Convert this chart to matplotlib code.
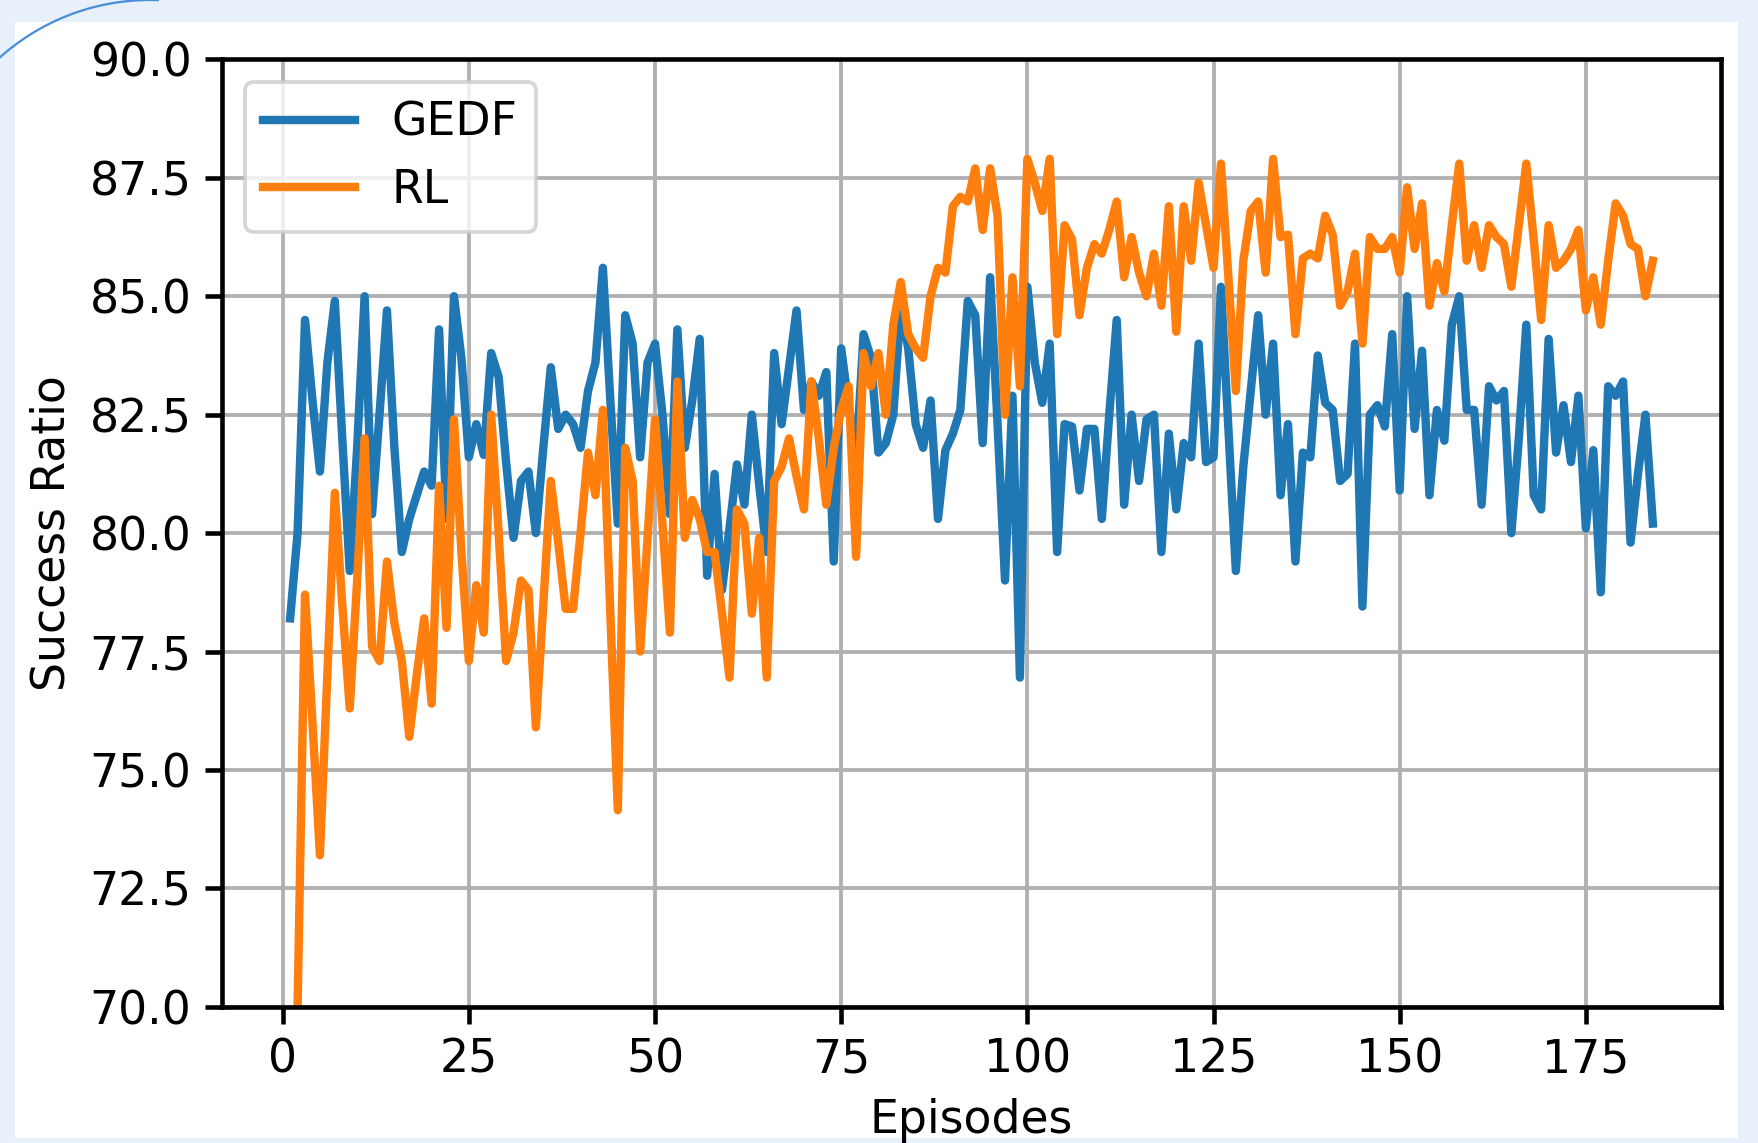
import numpy as np
import matplotlib
matplotlib.use('Agg')
import matplotlib.pyplot as plt
from matplotlib.patches import Rectangle

# success ratio per episode
gedf_episodes = np.arange(1, 185)
gedf = [78.2, 80.0, 84.5, 82.8, 81.3, 83.6, 84.9, 82.0, 79.2, 81.8,
        85.0, 80.4, 82.5, 84.7, 81.8, 79.6, 80.3, 80.8, 81.3, 81.0,
        84.3, 80.3, 85.0, 83.7, 81.6, 82.3, 81.65, 83.8, 83.3, 81.5,
        79.9, 81.1, 81.3, 80.0, 81.8, 83.5, 82.2, 82.5, 82.3, 81.8,
        83.0, 83.6, 85.6, 82.8, 80.2, 84.6, 84.0, 81.6, 83.6, 84.0,
        82.5, 80.4, 84.3, 81.8, 82.8, 84.1, 79.1, 81.25, 78.8, 80.1,
        81.45, 80.6, 82.5, 81.0, 79.6, 83.8, 82.3, 83.5, 84.7, 82.6,
        83.2, 82.9, 83.4, 79.4, 83.9, 82.7, 81.5, 84.2, 83.7, 81.7,
        81.9, 82.5, 84.8, 83.9, 82.3, 81.8, 82.8, 80.3, 81.75, 82.1,
        82.6, 84.9, 84.6, 81.9, 85.4, 82.3, 79.0, 82.9, 76.95, 85.2,
        83.6, 82.75, 84.0, 79.6, 82.3, 82.25, 80.9, 82.2, 82.2, 80.3,
        82.5, 84.5, 80.6, 82.5, 81.1, 82.4, 82.5, 79.6, 82.1, 80.5,
        81.9, 81.6, 84.0, 81.5, 81.6, 85.2, 82.2, 79.2, 81.4, 83.0,
        84.6, 82.5, 84.0, 80.8, 82.3, 79.4, 81.7, 81.6, 83.75, 82.75,
        82.6, 81.1, 81.25, 84.0, 78.45, 82.5, 82.7, 82.25, 84.2, 80.9,
        85.0, 82.2, 83.85, 80.8, 82.6, 81.95, 84.4, 85.0, 82.6, 82.6,
        80.6, 83.1, 82.8, 83.0, 80.0, 82.0, 84.4, 80.8, 80.5, 84.1,
        81.7, 82.7, 81.5, 82.9, 80.1, 81.75, 78.75, 83.1, 82.9, 83.2,
        79.8, 81.25, 82.5, 80.2]

rl_episodes = np.arange(2, 185)
rl = [70.0, 78.7, 76.0, 73.2, 77.0, 80.85, 78.5, 76.3, 79.0,
      82.0, 77.6, 77.3, 79.4, 78.1, 77.3, 75.7, 77.0, 78.2, 76.4,
      81.0, 78.0, 82.4, 79.6, 77.3, 78.9, 77.9, 82.5, 80.0, 77.3,
      77.9, 79.0, 78.8, 75.9, 78.5, 81.1, 79.8, 78.4, 78.4, 80.0,
      81.7, 80.8, 82.6, 78.3, 74.15, 81.8, 81.1, 77.5, 79.9, 82.4,
      80.2, 77.9, 83.2, 79.9, 80.7, 80.3, 79.6, 79.6, 78.3, 76.95,
      80.5, 80.2, 78.3, 79.9, 76.95, 81.1, 81.4, 82.0, 81.2, 80.5,
      83.2, 82.0, 80.6, 81.8, 82.6, 83.1, 79.5, 83.8, 83.1, 83.8,
      82.5, 84.4, 85.3, 84.2, 83.9, 83.7, 85.0, 85.6, 85.5, 86.9,
      87.1, 87.0, 87.7, 86.4, 87.7, 86.7, 82.5, 85.4, 83.1, 87.9,
      87.4, 86.8, 87.9, 84.2, 86.5, 86.2, 84.6, 85.6, 86.1, 85.9,
      86.4, 87.0, 85.4, 86.25, 85.5, 85.0, 85.9, 84.8, 86.9, 84.25,
      86.9, 85.75, 87.4, 86.5, 85.6, 87.8, 85.4, 83.0, 85.75, 86.8,
      87.0, 85.5, 87.9, 86.25, 86.3, 84.2, 85.8, 85.9, 85.8, 86.7,
      86.3, 84.8, 85.1, 85.9, 84.0, 86.25, 86.0, 86.0, 86.25, 85.5,
      87.3, 86.0, 86.96, 84.8, 85.7, 85.1, 86.5, 87.8, 85.75, 86.5,
      85.6, 86.5, 86.25, 86.1, 85.2, 86.5, 87.8, 86.2, 84.5, 86.5,
      85.6, 85.75, 86.0, 86.4, 84.7, 85.4, 84.4, 85.75, 86.96, 86.7,
      86.1, 86.0, 85.0, 85.75]

plt.rcParams['font.size'] = 12
plt.rcParams['axes.linewidth'] = 1.2
plt.rcParams['xtick.major.width'] = 1.2
plt.rcParams['ytick.major.width'] = 1.2
plt.rcParams['xtick.major.size'] = 4.5
plt.rcParams['ytick.major.size'] = 4.5
plt.rcParams['grid.linewidth'] = 1.0

W, H = 1758, 1143
dpi = W / 6.4
fig = plt.figure(figsize=(6.4, H / dpi), dpi=dpi)
fig.patch.set_facecolor('#e8f1fb')

# slide-style backdrop: white panel and a thin decorative arc
bg = fig.add_axes([0, 0, 1, 1], zorder=0)
bg.set_xlim(0, W)
bg.set_ylim(H, 0)
bg.axis('off')
bg.add_patch(Rectangle((15, 22), 1723, 1116, facecolor='white', edgecolor='none'))
t = np.radians(np.linspace(88, 160, 200))
bg.plot(150 + 225 * np.cos(t), 225 - 225 * np.sin(t), color='#4a8fd6', lw=0.6)

ax = fig.add_axes([222 / W, 1 - 1006.8 / H, (1721 - 222) / W, (1006.8 - 59.4) / H], zorder=1)
ax.plot(gedf_episodes, gedf, label='GEDF', lw=2.2)
ax.plot(rl_episodes, rl, label='RL', lw=2.2)
ax.set_ylim(70, 90)
ax.set_yticks(np.arange(70, 90.1, 2.5))
ax.set_xlabel('Episodes')
ax.set_ylabel('Success Ratio')
ax.legend(loc='upper left')
ax.grid(True)

fig.savefig('out.png', dpi=dpi, facecolor=fig.get_facecolor())
